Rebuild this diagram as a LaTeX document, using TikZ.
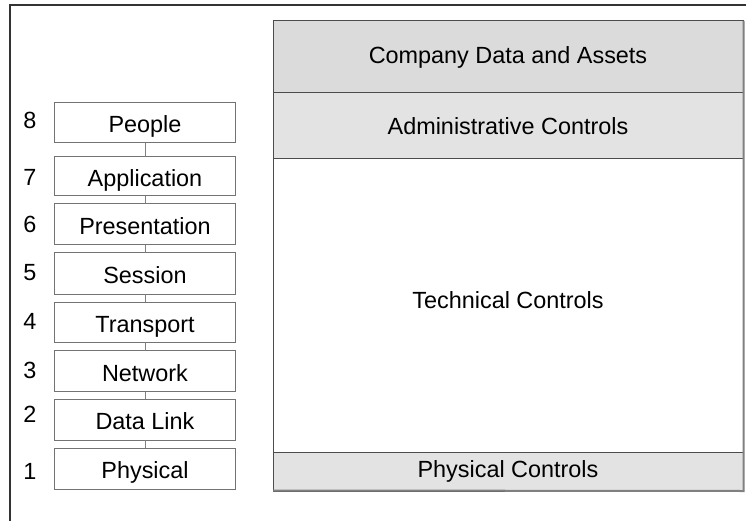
\documentclass[tikz,border=0pt]{standalone}
\usepackage{fontspec}
\setmainfont{Liberation Sans}
\begin{document}
\begin{tikzpicture}[x=1bp,y=-1bp,
  txt/.style={font=\fontsize{23.5}{25}\selectfont},
  layer/.style={txt, draw=black!55, line width=1bp, fill=white, minimum width=180bp, inner sep=0pt, outer sep=0pt, text height=20bp, text depth=0bp},
  num/.style={txt, inner sep=0pt},
  band/.style={txt, draw=black!70, line width=1bp, minimum width=470bp, inner sep=0pt, outer sep=0pt},
  link/.style={draw=black!50, line width=1bp},
  frame/.style={draw=black!80, line width=1.6bp}]
\useasboundingbox (0,0) rectangle (746,521);
% outer frame (clipped)
\coordinate (fl) at (10,5);
\coordinate (fr) at (746,5);
\coordinate (fb) at (10,521);
\draw[frame] (fb) -- (fl) -- (fr);
% right column
\node[band, fill=black!14, minimum height=72bp] (cda) at (508,57) {Company Data and Assets};
\node[band, fill=black!11, minimum height=66bp] (adm) at (508,126) {Administrative Controls};
\node[band, fill=white, minimum height=293bp] (tec) at (508,305.5) {};
\node[txt, inner sep=0pt] (tect) at (508,300) {Technical Controls};
\node[band, fill=black!11, minimum height=39bp] (phc) at (508,471.5) {Physical Controls};
\draw[black!50, line width=2bp] ([xshift=0.5bp]cda.north east) -- ([xshift=0.5bp]phc.south east) -- ([yshift=0.5bp]phc.south west);
% OSI layers
\node[layer, minimum height=40bp] (l8) at (145,123) {People};
\node[layer, minimum height=39bp] (l7) at (145,176.5) {Application};
\node[layer, minimum height=41bp] (l6) at (145,224.5) {Presentation};
\node[layer, minimum height=41bp] (l5) at (145,273.5) {Session};
\node[layer, minimum height=40bp] (l4) at (145,322) {Transport};
\node[layer, minimum height=41bp] (l3) at (145,371) {Network};
\node[layer, minimum height=41bp] (l2) at (145,419.5) {Data Link};
\node[layer, minimum height=41bp] (l1) at (145,468.5) {Physical};
\draw[link] (l8) -- (l7);
\draw[link] (l7) -- (l6);
\draw[link] (l6) -- (l5);
\draw[link] (l5) -- (l4);
\draw[link] (l4) -- (l3);
\draw[link] (l3) -- (l2);
\draw[link] (l2) -- (l1);
% numbers
\node[num] (n8) at (30,120) {8};
\node[num] (n7) at (30,177) {7};
\node[num] (n6) at (30,224) {6};
\node[num] (n5) at (30,272.5) {5};
\node[num] (n4) at (30,321.5) {4};
\node[num] (n3) at (30,370) {3};
\node[num] (n2) at (30,414) {2};
\node[num] (n1) at (30,471) {1};
\end{tikzpicture}
\end{document}
